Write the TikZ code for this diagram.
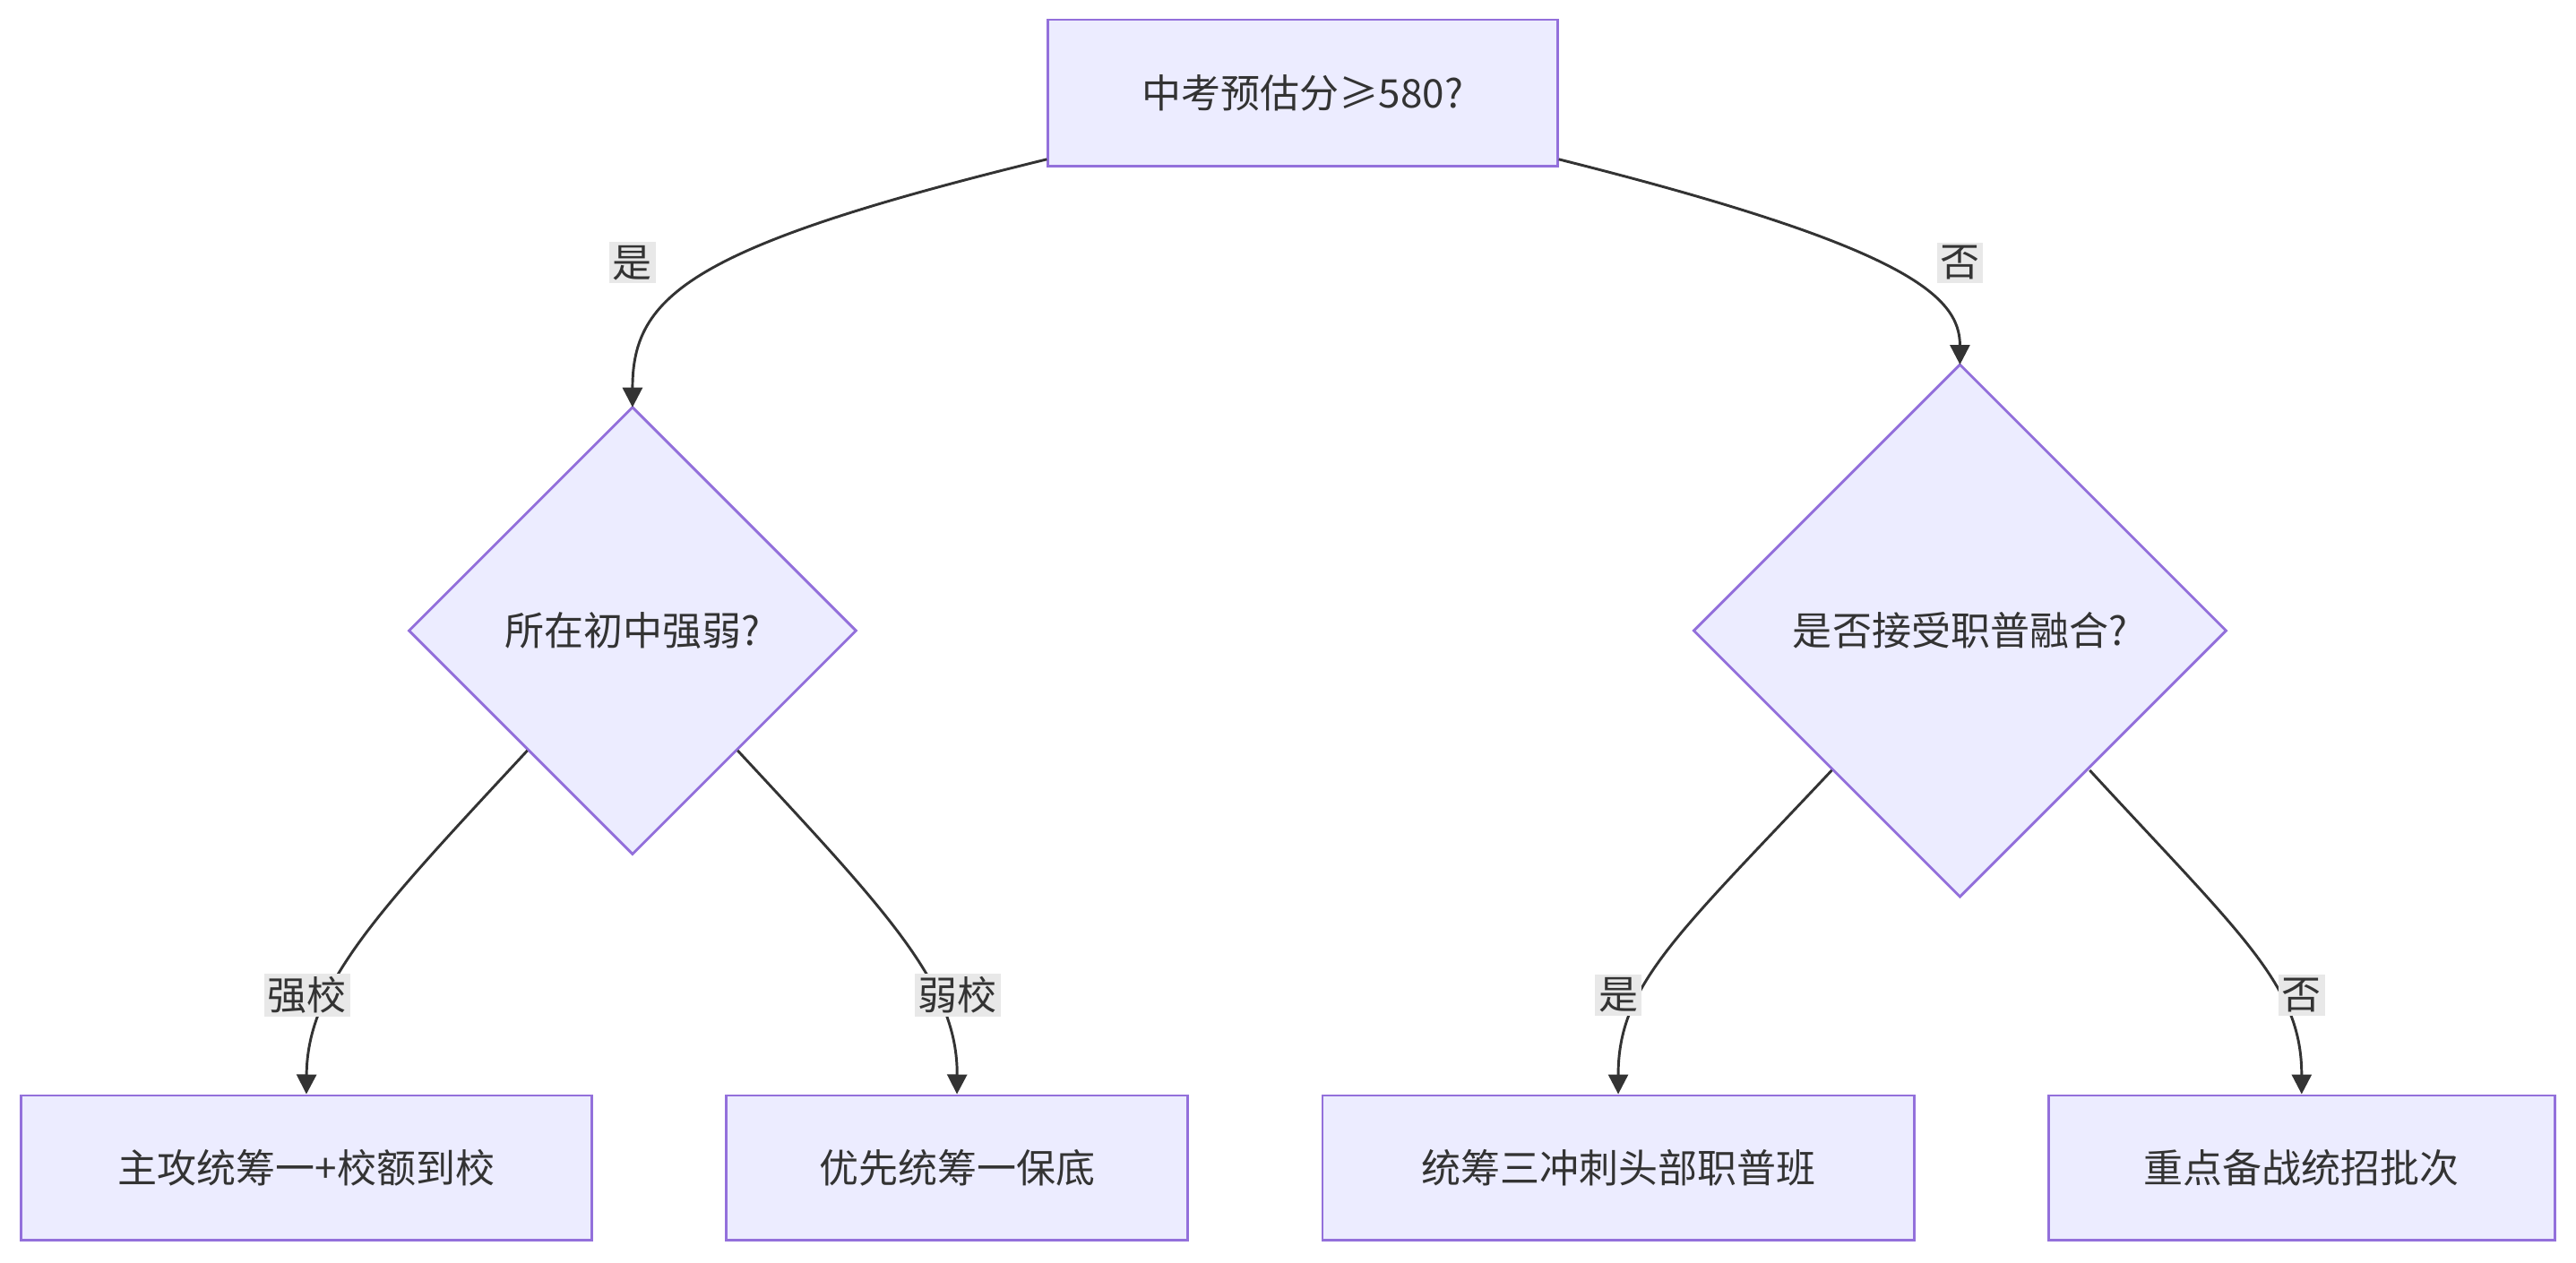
\documentclass[tikz,border=0pt]{standalone}
\usepackage{fontspec}
\setmainfont{Noto Sans CJK SC}
\usetikzlibrary{shapes.geometric,arrows.meta}
\definecolor{nfill}{HTML}{ECECFF}
\definecolor{nline}{HTML}{9370DB}
\definecolor{eline}{HTML}{333333}
\definecolor{lbg}{HTML}{E8E8E8}
\begin{document}
\begin{tikzpicture}[x=0.5pt,y=-0.5pt,
  box/.style={draw=nline,fill=nfill,line width=0.8pt,font=\fontsize{12}{14}\selectfont,text=eline,inner sep=0pt},
  dia/.style={draw=nline,fill=nfill,line width=0.8pt,font=\fontsize{12}{14}\selectfont,text=eline},
  edge/.style={draw=eline,line width=0.8pt,-{Triangle[length=6pt,width=6pt]}},
  lab/.style={fill=lbg,font=\fontsize{12}{14}\selectfont,text=eline,inner sep=1pt}]
\useasboundingbox (0,0) rectangle (1568,769);
\node[box,minimum width=155pt,minimum height=44.5pt] (top) at (793,56.5) {中考预估分≥580?};
\draw[dia] (385,248) -- (521,384) -- (385,520) -- (249,384) -- cycle;
\node[font=\fontsize{12}{14}\selectfont,text=eline] (dl) at (385,384) {所在初中强弱?};
\draw[dia] (1193,222) -- (1355,384) -- (1193,546) -- (1031,384) -- cycle;
\node[font=\fontsize{12}{14}\selectfont,text=eline] (dr) at (1193,384) {是否接受职普融合?};
\node[box,minimum width=173.5pt,minimum height=44pt] (b1) at (186.5,711) {主攻统筹一+校额到校};
\node[box,minimum width=140.5pt,minimum height=44pt] (b2) at (582.5,711) {优先统筹一保底};
\node[box,minimum width=180pt,minimum height=44pt] (b3) at (985,711) {统筹三冲刺头部职普班};
\node[box,minimum width=154pt,minimum height=44pt] (b4) at (1401,711) {重点备战统招批次};
\coordinate (dlT) at (385,248); \coordinate (drT) at (1193,222);
\coordinate (dlL) at (321,457); \coordinate (dlR) at (449,457);
\coordinate (drL) at (1115,469); \coordinate (drR) at (1272,469);
\draw[edge] (top.south west |- 0,97) .. controls (420,150) and (385,180) .. (dlT);
\draw[edge] (top.south east |- 0,97) .. controls (1160,150) and (1193,180) .. (drT);
\draw[edge] (dlL) .. controls (230,555) and (187,600) .. (b1.north);
\draw[edge] (dlR) .. controls (540,555) and (583,600) .. (b2.north);
\draw[edge] (drL) .. controls (1020,570) and (985,600) .. (b3.north);
\draw[edge] (drR) .. controls (1365,570) and (1401,600) .. (b4.north);
\node[lab] (l1) at (385,160) {是};
\node[lab] (l2) at (1193,160) {否};
\node[lab] (l3) at (187,606) {强校};
\node[lab] (l4) at (583,606) {弱校};
\node[lab] (l5) at (985,606) {是};
\node[lab] (l6) at (1401,606) {否};
\end{tikzpicture}
\end{document}
